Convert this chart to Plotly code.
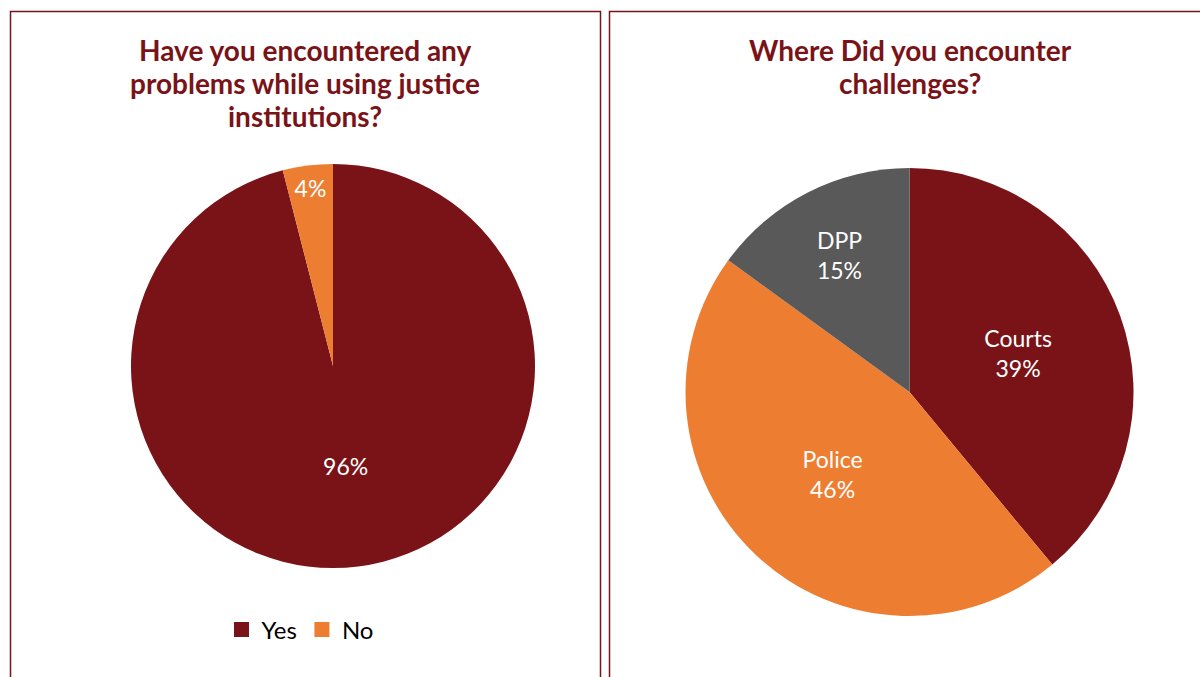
import plotly.graph_objects as go

# Survey answers
problem_labels = ["Yes", "No"]
problem_values = [96, 4]

place_labels = ["Courts", "Police", "DPP"]
place_values = [39, 46, 15]

left_title = ["Have you encountered any", "problems while using justice", "institutions?"]
right_title = ["Where Did you encounter", "challenges?"]

maroon = "#7A1317"
orange = "#ED7D31"
grey = "#595959"

W, H = 1200, 677

fig = go.Figure()

fig.add_trace(go.Pie(
    labels=problem_labels, values=problem_values,
    marker=dict(colors=[maroon, orange], line=dict(width=0)),
    sort=False, direction="clockwise", rotation=0,
    textinfo="percent", textposition="inside", insidetextorientation="horizontal",
    textfont=dict(family="Lato", size=23, color="white"),
    domain=dict(x=[131 / W, 535 / W], y=[(H - 568) / H, (H - 164) / H]),
    showlegend=False, hoverinfo="label+percent",
))

fig.add_trace(go.Pie(
    labels=place_labels, values=place_values,
    marker=dict(colors=[maroon, orange, grey], line=dict(width=0)),
    sort=False, direction="clockwise", rotation=0,
    textposition="inside", insidetextorientation="horizontal",
    texttemplate="%{label}<br>%{percent:.0%}",
    textfont=dict(family="Lato", size=23, color="white"),
    domain=dict(x=[685 / W, 1134 / W], y=[(H - 616) / H, (H - 168) / H]),
    showlegend=False, hoverinfo="label+percent",
))

# Legend entries for the first question, drawn as square markers
for lab, col in zip(problem_labels, [maroon, orange]):
    fig.add_trace(go.Scatter(
        x=[None], y=[None], mode="markers", name=lab,
        marker=dict(symbol="square", size=15, color=col),
        showlegend=True,
    ))

# Panel frames
border = dict(type="rect", xref="paper", yref="paper",
              line=dict(color=maroon, width=1.5), fillcolor="rgba(0,0,0,0)")
fig.add_shape(x0=10.5 / W, x1=600.5 / W, y0=-0.05, y1=(H - 11.5) / H, **border)
fig.add_shape(x0=609.5 / W, x1=1.05, y0=-0.05, y1=(H - 11.5) / H, **border)

title_font = dict(family="Lato", size=28, color=maroon)
for i, line in enumerate(left_title):
    fig.add_annotation(
        text=f"<b>{line}</b>", x=305 / W, y=(H - 50 - 33 * i) / H,
        xref="paper", yref="paper", xanchor="center", yanchor="middle",
        showarrow=False, font=title_font,
    )
for i, line in enumerate(right_title):
    fig.add_annotation(
        text=f"<b>{line}</b>", x=910 / W, y=(H - 50 - 33 * i) / H,
        xref="paper", yref="paper", xanchor="center", yanchor="middle",
        showarrow=False, font=title_font,
    )

fig.update_layout(
    width=W, height=H,
    margin=dict(l=0, r=0, t=0, b=0),
    paper_bgcolor="white", plot_bgcolor="white",
    xaxis=dict(visible=False, domain=[0, 0.01]),
    yaxis=dict(visible=False, domain=[0, 0.01]),
    legend=dict(orientation="h", x=300 / W, xanchor="center",
                y=(H - 630) / H, yanchor="middle",
                font=dict(family="Lato", size=24, color="black"),
                itemsizing="trace", itemwidth=30, tracegroupgap=0),
)

fig.write_html("out.html")
